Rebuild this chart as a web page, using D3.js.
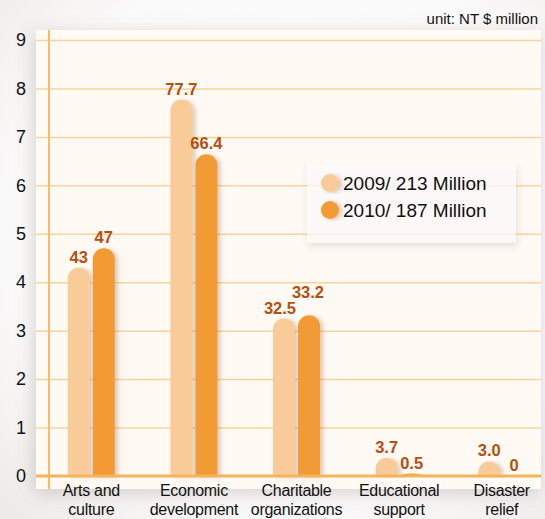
<!DOCTYPE html>
<html>
<head>
<meta charset="utf-8">
<script src="https://cdn.jsdelivr.net/npm/d3@7"></script>
<style>
  html, body { margin: 0; padding: 0; background: #ffffff; }
  svg { display: block; font-family: "Liberation Sans", Arial, sans-serif; }
</style>
</head>
<body>
<svg id="chart" width="545" height="519"></svg>
<script>
// Donations by category, NT$ million
const categories = ["Arts and culture", "Economic development", "Charitable organizations", "Educational support", "Disaster relief"];
const categoryLines = [["Arts and", "culture"], ["Economic", "development"], ["Charitable", "organizations"], ["Educational", "support"], ["Disaster", "relief"]];
const seriesNames = ["2009", "2010"];
const legendLabels = ["2009/ 213 Million", "2010/ 187 Million"];
const values2009 = [43, 77.7, 32.5, 3.7, 3.0];
const values2010 = [47, 66.4, 33.2, 0.5, 0];
const labels2009 = ["43", "77.7", "32.5", "3.7", "3.0"];
const labels2010 = ["47", "66.4", "33.2", "0.5", "0"];
const yTicks = [0, 10, 20, 30, 40, 50, 60, 70, 80, 90];

const colors = { "2009": "#f9cb98", "2010": "#f29b35" };
const labelColor = "#b5500e";

const svg = d3.select("#chart");
const W = 545, H = 519;
const panel = { x: 36, y: 30, w: 505, h: 459 };

// page backdrop: faint grey vignette
const defs = svg.append("defs");
const bg = defs.append("radialGradient").attr("id", "pageBg")
  .attr("cx", "55%").attr("cy", "45%").attr("r", "75%");
bg.append("stop").attr("offset", "0%").attr("stop-color", "#ffffff");
bg.append("stop").attr("offset", "70%").attr("stop-color", "#fbfafa");
bg.append("stop").attr("offset", "100%").attr("stop-color", "#eeecea");
svg.append("rect").attr("width", W).attr("height", H).attr("fill", "url(#pageBg)");

// filters
const fPanel = defs.append("filter").attr("id", "panelShadow")
  .attr("x", "-10%").attr("y", "-10%").attr("width", "120%").attr("height", "120%");
fPanel.append("feDropShadow").attr("dx", -2).attr("dy", 4).attr("stdDeviation", 9)
  .attr("flood-color", "#6b625a").attr("flood-opacity", 0.28);
const fBar = defs.append("filter").attr("id", "barShadow")
  .attr("x", "-30%").attr("y", "-10%").attr("width", "170%").attr("height", "120%");
fBar.append("feDropShadow").attr("dx", 3).attr("dy", 1).attr("stdDeviation", 2.2)
  .attr("flood-color", "#7a4a1a").attr("flood-opacity", 0.28);
const fBox = defs.append("filter").attr("id", "boxShadow")
  .attr("x", "-10%").attr("y", "-20%").attr("width", "120%").attr("height", "150%");
fBox.append("feDropShadow").attr("dx", 1).attr("dy", 3).attr("stdDeviation", 3)
  .attr("flood-color", "#7a5a3a").attr("flood-opacity", 0.25);

// plot panel
svg.append("rect")
  .attr("x", panel.x).attr("y", panel.y).attr("width", panel.w).attr("height", panel.h)
  .attr("fill", "#fffaf4").attr("filter", "url(#panelShadow)");

// scales
const y = d3.scaleLinear().domain([0, 90]).range([476, 40]);
const x = d3.scaleBand().domain(categories).range([40, 553]);
const xs = d3.scaleBand().domain(seriesNames).range([-23.5, 23.5]).paddingInner(0.12);
const cx = c => x(c) + x.bandwidth() / 2;

// horizontal gridlines
const grid = svg.append("g")
  .attr("transform", `translate(${panel.x},0)`)
  .call(d3.axisLeft(y).tickValues(yTicks.slice(1)).tickSize(-panel.w).tickFormat(""));
grid.select(".domain").remove();
grid.selectAll("line").attr("stroke", "#fcd39c").attr("stroke-width", 1.5);

// vertical axis line
svg.append("line")
  .attr("x1", 49).attr("x2", 49).attr("y1", panel.y).attr("y2", panel.y + panel.h)
  .attr("stroke", "#f8bd6a").attr("stroke-width", 2);

// y tick labels
const yAxis = svg.append("g")
  .attr("transform", "translate(26,0)")
  .call(d3.axisLeft(y).tickValues(yTicks).tickSize(0).tickPadding(0).tickFormat(d => d / 10));
yAxis.select(".domain").remove();
yAxis.selectAll("text")
  .attr("font-size", 18).attr("fill", "#111")
  .attr("font-family", "'Liberation Sans', Arial, sans-serif");

// bars with rounded tops
function barPath(x0, w, yTop, yBase) {
  const h = yBase - yTop;
  if (h <= 0) return "";
  const ry = Math.min(w / 2, h);
  return `M${x0},${yBase}L${x0},${yTop + ry}A${w / 2},${ry} 0 0 1 ${x0 + w},${yTop + ry}L${x0 + w},${yBase}Z`;
}

const rows = categories.map((c, i) => ({
  cat: c,
  items: [
    { s: "2009", v: values2009[i], label: labels2009[i] },
    { s: "2010", v: values2010[i], label: labels2010[i] }
  ]
}));

const barsG = svg.append("g");
rows.forEach(r => {
  r.items.forEach(it => {
    const x0 = cx(r.cat) + xs(it.s);
    barsG.append("path")
      .attr("d", barPath(x0, xs.bandwidth(), y(it.v), y(0)))
      .attr("fill", colors[it.s])
      .attr("filter", "url(#barShadow)");
  });
});

// baseline
svg.append("line")
  .attr("x1", panel.x).attr("x2", panel.x + panel.w).attr("y1", y(0)).attr("y2", y(0))
  .attr("stroke", "#f6b35a").attr("stroke-width", 3);

// value labels
const labG = svg.append("g")
  .attr("font-weight", "bold").attr("font-size", 16.5).attr("fill", labelColor)
  .attr("text-anchor", "middle");
rows.forEach(r => {
  const texts = r.items.map(it => {
    const px = cx(r.cat) + xs(it.s) + xs.bandwidth() / 2;
    return labG.append("text")
      .attr("x", px).attr("y", y(it.v) - 5)
      .text(it.label);
  });
  // keep neighbouring labels from overlapping
  const [a, b] = texts;
  const wa = a.node().getComputedTextLength(), wb = b.node().getComputedTextLength();
  const ax = +a.attr("x"), bx = +b.attr("x");
  const ay = +a.attr("y"), by = +b.attr("y");
  if (bx - ax < (wa + wb) / 2 + 2 && Math.abs(ay - by) < 15) {
    a.attr("x", ax - 4);
    b.attr("x", bx - 1);
    if (by <= ay) b.attr("y", ay - 16); else a.attr("y", by - 16);
  }
});

// category labels, two lines each
const xAxis = svg.append("g")
  .attr("transform", `translate(0,${y(0)})`)
  .call(d3.axisBottom(x).tickSize(0).tickFormat(""));
xAxis.select(".domain").remove();
xAxis.selectAll(".tick").each(function (d, i) {
  const t = d3.select(this).append("text")
    .attr("text-anchor", "middle").attr("fill", "#111")
    .attr("font-size", 16).attr("letter-spacing", "-0.3px")
    .attr("font-family", "'Liberation Sans', Arial, sans-serif");
  categoryLines[i].forEach((line, k) => {
    t.append("tspan").attr("x", 0).attr("y", 20 + k * 18.5).text(line);
  });
});

// legend
const lg = svg.append("g");
lg.append("rect")
  .attr("x", 307).attr("y", 165).attr("width", 209).attr("height", 78)
  .attr("fill", "#ffffff").attr("fill-opacity", 0.72)
  .attr("filter", "url(#boxShadow)");
seriesNames.forEach((s, i) => {
  const ly = 183 + i * 27;
  lg.append("circle").attr("cx", 330).attr("cy", ly).attr("r", 9)
    .attr("fill", colors[s]).attr("filter", "url(#barShadow)");
  lg.append("text").attr("x", 343).attr("y", ly).attr("dy", "0.36em")
    .attr("font-size", 19).attr("fill", "#111").text(legendLabels[i]);
});

// unit note
svg.append("text")
  .attr("x", 538).attr("y", 24).attr("text-anchor", "end")
  .attr("font-size", 15).attr("fill", "#111")
  .text("unit: NT $ million");
</script>
</body>
</html>
